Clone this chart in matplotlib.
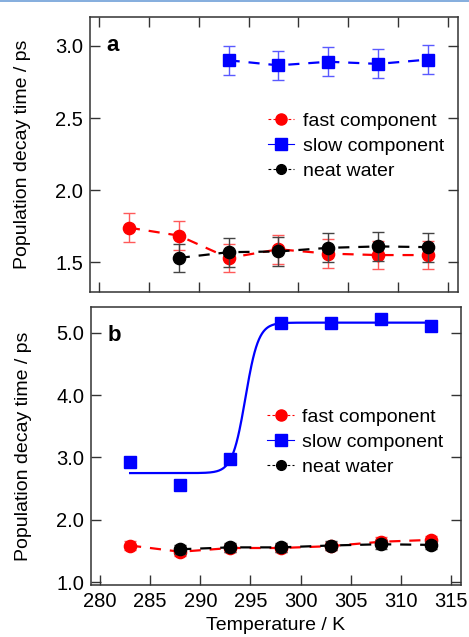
#!/usr/bin/env python3
"""Population decay times vs temperature, two stacked panels."""

import matplotlib

matplotlib.use("Agg")
import matplotlib.pyplot as plt
import numpy as np
from matplotlib.lines import Line2D

# panel a
temps_a = [283, 288, 293, 298, 303, 308, 313]
fast_a = [1.74, 1.685, 1.53, 1.59, 1.56, 1.55, 1.55]
fast_a_err = [0.10, 0.10, 0.10, 0.10, 0.10, 0.10, 0.10]
slow_temps_a = [293, 298, 303, 308, 313]
slow_a = [2.90, 2.865, 2.89, 2.875, 2.905]
slow_a_err = [0.10, 0.10, 0.10, 0.10, 0.10]
neat_temps = [288, 293, 298, 303, 308, 313]
neat_a = [1.53, 1.57, 1.575, 1.60, 1.61, 1.605]
neat_a_err = [0.10, 0.10, 0.10, 0.10, 0.10, 0.10]

# panel b
temps_b = [283, 288, 293, 298, 303, 308, 313]
fast_b = [1.59, 1.49, 1.55, 1.55, 1.58, 1.65, 1.68]
fast_b_err = [0.07, 0.07, 0.07, 0.07, 0.07, 0.07, 0.07]
slow_b = [2.93, 2.56, 2.97, 5.15, 5.16, 5.22, 5.10]
slow_b_err = [0.08, 0.08, 0.08, 0.08, 0.08, 0.08, 0.08]
neat_b = [1.53, 1.56, 1.56, 1.59, 1.61, 1.60]
neat_b_err = [0.07, 0.07, 0.07, 0.07, 0.07, 0.07]

# sigmoid fit of the slow component (panel b)
fit_low, fit_high, fit_mid, fit_width = 2.75, 5.16, 294.5, 0.65
fit_range = (283, 313)

RED, BLUE, BLACK = "#ff0000", "#0000ff", "#000000"
ERR = {RED: "#ff5a5a", BLUE: "#5a5aff", BLACK: "#444444"}

plt.rcParams["font.family"] = ["Liberation Sans", "DejaVu Sans"]
plt.rcParams["font.size"] = 14

fig = plt.figure(figsize=(4.69, 6.37), dpi=100)
ax_a = fig.add_axes([0.1919, 0.5416, 0.7846, 0.4317])
ax_b = fig.add_axes([0.1940, 0.0816, 0.7890, 0.4364])

fig.add_artist(Line2D([0, 1], [0.999, 0.999], color="#6f9fd8", lw=1.2))


def series(ax, x, y, err, color, marker, ls, lw=1.6, z=2):
    ax.errorbar(x, y, yerr=err, fmt="none", ecolor=ERR[color], elinewidth=1.0,
                capsize=4, capthick=1.0, zorder=z)
    ax.plot(x, y, ls=ls, dashes=(5, 4) if ls == "--" else (None, None),
            color=color, lw=lw, zorder=z + 0.1)
    ax.plot(x, y, ls="none", marker=marker, ms=8.8, color=color,
            markeredgecolor=color, zorder=z + 0.2)


def legend(ax, x0, yc):
    handles = [
        Line2D([], [], color=RED, ls=(0, (2.5, 2)), lw=0.8, marker="o", ms=8),
        Line2D([], [], color=BLUE, ls="-", lw=0.8, marker="s", ms=8),
        Line2D([], [], color=BLACK, ls=(0, (2.5, 2)), lw=0.8, marker="o", ms=7),
    ]
    ax.legend(handles, ["fast component", "slow component", "neat water"],
              loc="center left", bbox_to_anchor=(x0, yc), frameon=False,
              handlelength=1.35, handletextpad=0.45, labelspacing=0.38,
              borderpad=0, borderaxespad=0, fontsize=14)


def style(ax, show_top):
    for s in ax.spines.values():
        s.set_color("#333333")
        s.set_linewidth(1.1)
    ax.tick_params(direction="in", length=7, width=1.0, color="#333333",
                   top=show_top, right=True, pad=5, labelsize=14.5)
    ax.set_xlim(279.1, 316.0)
    ax.set_xticks(np.arange(280, 316, 5))
    ax.set_ylabel("Population decay time / ps")
    ax.yaxis.set_label_coords(-0.16, 0.5)


# panel a
series(ax_a, temps_a, fast_a, fast_a_err, RED, "o", "--")
series(ax_a, slow_temps_a, slow_a, slow_a_err, BLUE, "s", "--")
series(ax_a, neat_temps, neat_a, neat_a_err, BLACK, "o", "--", z=3)
style(ax_a, True)
ax_a.set_ylim(1.294, 3.2)
ax_a.set_yticks([1.5, 2.0, 2.5, 3.0])
ax_a.set_yticklabels(["1.5", "2.0", "2.5", "3.0"])
ax_a.set_xticklabels([])
ax_a.text(0.045, 0.935, "a", transform=ax_a.transAxes, fontsize=16,
          fontweight="bold", va="top")
legend(ax_a, 0.484, 0.531)

# panel b
fit_x = np.linspace(fit_range[0], fit_range[1], 400)
fit_y = fit_low + (fit_high - fit_low) / (1 + np.exp(-(fit_x - fit_mid) / fit_width))
ax_b.plot(fit_x, fit_y, color=BLUE, lw=1.6, zorder=2)
ax_b.errorbar(temps_b, slow_b, yerr=slow_b_err, fmt="none", ecolor=ERR[BLUE],
              elinewidth=1.0, capsize=4, capthick=1.0, zorder=2)
ax_b.plot(temps_b, slow_b, ls="none", marker="s", ms=9, color=BLUE, zorder=2.2)
series(ax_b, temps_b, fast_b, fast_b_err, RED, "o", "--")
series(ax_b, neat_temps, neat_b, neat_b_err, BLACK, "o", "--", z=3)
style(ax_b, False)
ax_b.set_ylim(0.957, 5.41)
ax_b.set_yticks([1.0, 2.0, 3.0, 4.0, 5.0])
ax_b.set_yticklabels(["1.0", "2.0", "3.0", "4.0", "5.0"])
ax_b.set_xlabel("Temperature / K", labelpad=4)
ax_b.text(0.045, 0.935, "b", transform=ax_b.transAxes, fontsize=16,
          fontweight="bold", va="top")
legend(ax_b, 0.477, 0.513)

fig.savefig("out.png", dpi=100)
